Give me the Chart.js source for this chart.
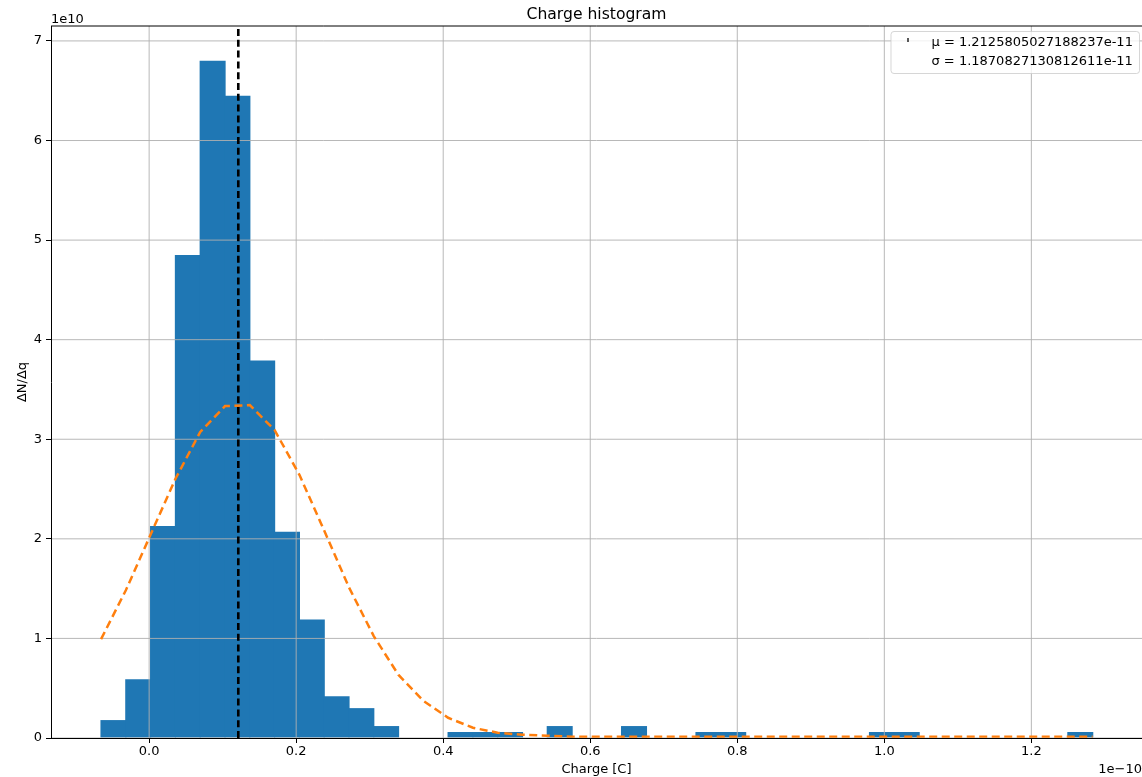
<!DOCTYPE html>
<html>
<head>
<meta charset="utf-8">
<script src="https://cdn.jsdelivr.net/npm/chart.js@4.4.1/dist/chart.umd.min.js"></script>
<style>
  html, body { margin: 0; padding: 0; background: #fff; }
  #wrap { width: 1142px; height: 777px; }
</style>
</head>
<body>
<div id="wrap"><canvas id="c" width="1142" height="777"></canvas></div>
<script>
// ---- Data (x in units of 1e-10 C, y in units of 1e10) ----
const binEdges = [-0.0654, -0.0317, 0.0020, 0.0358, 0.0695, 0.1032, 0.1369, 0.1706, 0.2044, 0.2381,
  0.2718, 0.3055, 0.3392, 0.3730, 0.4067, 0.4404, 0.4741, 0.5078, 0.5416, 0.5753,
  0.6090, 0.6427, 0.6764, 0.7102, 0.7439, 0.7776, 0.8113, 0.8450, 0.8788, 0.9125,
  0.9462, 0.9799, 1.0136, 1.0474, 1.0811, 1.1148, 1.1485, 1.1822, 1.2160, 1.2497, 1.2834];
const binDensity = [0.18, 0.59, 2.13, 4.85, 6.80, 6.45, 3.79, 2.07, 1.19, 0.42,
  0.30, 0.12, 0, 0, 0.06, 0.06, 0.06, 0, 0.12, 0,
  0, 0.12, 0, 0, 0.06, 0.06, 0, 0, 0, 0,
  0, 0.06, 0.06, 0, 0, 0, 0, 0, 0, 0.06];
const fitCurve = [0.98, 1.47, 2.03, 2.59, 3.06, 3.32, 3.33, 3.08, 2.63, 2.07,
  1.50, 1.01, 0.62, 0.36, 0.19, 0.09, 0.04, 0.02, 0.01, 0,
  0, 0, 0, 0, 0, 0, 0, 0, 0, 0,
  0, 0, 0, 0, 0, 0, 0, 0, 0, 0, 0];
const meanCharge = 1.2125805027188237e-11;
const sigmaCharge = 1.1870827130812611e-11;
const legendLabels = ['μ = 1.2125805027188237e-11', 'σ = 1.1870827130812611e-11'];
const xTicks = [0.0, 0.2, 0.4, 0.6, 0.8, 1.0, 1.2];
const yTicks = [0, 1, 2, 3, 4, 5, 6, 7];
const titleText = 'Charge histogram';
const xLabel = 'Charge [C]';
const yLabel = 'ΔN/Δq';
const xOffsetText = '1e\u221210';
const yOffsetText = '1e10';

// ---- Layout constants ----
const X_MIN = -0.1335, X_MAX = 1.3505, Y_MAX = 7.15;
const FONT = "'DejaVu Sans', sans-serif";

const meanScaled = meanCharge / 1e-10;
const barData = binDensity.map((v, i) => ({ x: (binEdges[i] + binEdges[i + 1]) / 2, y: v }));
const fitData = fitCurve.map((v, i) => ({ x: binEdges[i], y: v }));
const meanData = [{ x: meanScaled, y: 0 }, { x: meanScaled, y: Y_MAX }];

Chart.defaults.font.family = FONT;
Chart.defaults.font.size = 13;
Chart.defaults.color = '#000';

const mplDecor = {
  id: 'mplDecor',
  beforeDatasetDraw(chart, args) {
    if (args.index === 1) {
      chart.ctx.save();
      chart.ctx.translate(0, -1.3);
    }
  },
  afterDatasetDraw(chart, args) {
    if (args.index === 1) { chart.ctx.restore(); return; }
    if (args.index !== 0) return;
    const { ctx, chartArea: a, scales: { x, y } } = chart;
    ctx.save();
    ctx.beginPath();
    ctx.rect(a.left, a.top, a.right - a.left, a.bottom - a.top);
    ctx.clip();
    ctx.strokeStyle = '#b0b0b0';
    ctx.lineWidth = 0.9;
    xTicks.forEach(v => {
      const p = x.getPixelForValue(v);
      ctx.beginPath(); ctx.moveTo(p, a.top); ctx.lineTo(p, a.bottom); ctx.stroke();
    });
    yTicks.forEach(v => {
      const p = y.getPixelForValue(v);
      ctx.beginPath(); ctx.moveTo(a.left, p); ctx.lineTo(a.right, p); ctx.stroke();
    });
    ctx.restore();
  },
  afterDraw(chart) {
    const { ctx, chartArea: a } = chart;
    ctx.save();
    // top spine
    ctx.strokeStyle = '#000';
    ctx.lineWidth = 1;
    ctx.beginPath(); ctx.moveTo(a.left, a.top); ctx.lineTo(a.right, a.top); ctx.stroke();
    // title
    ctx.fillStyle = '#000';
    ctx.font = '15.6px ' + FONT;
    ctx.textAlign = 'center';
    ctx.textBaseline = 'alphabetic';
    ctx.fillText(titleText, (a.left + a.right) / 2, 19);
    // offset texts
    ctx.font = '13px ' + FONT;
    ctx.textAlign = 'left';
    ctx.fillText(yOffsetText, a.left, 23);
    ctx.textAlign = 'right';
    ctx.fillText(xOffsetText, a.right, 773);
    // legend
    const bx = 891, by = 31.5, bw = 1139.5 - 891, bh = 73.5 - 31.5, r = 3;
    ctx.beginPath();
    ctx.moveTo(bx + r, by);
    ctx.arcTo(bx + bw, by, bx + bw, by + bh, r);
    ctx.arcTo(bx + bw, by + bh, bx, by + bh, r);
    ctx.arcTo(bx, by + bh, bx, by, r);
    ctx.arcTo(bx, by, bx + bw, by, r);
    ctx.closePath();
    ctx.fillStyle = 'rgba(255,255,255,0.8)';
    ctx.fill();
    ctx.strokeStyle = 'rgba(204,204,204,0.8)';
    ctx.lineWidth = 1;
    ctx.stroke();
    ctx.strokeStyle = '#222';
    ctx.lineWidth = 1.5;
    ctx.beginPath(); ctx.moveTo(908, 38); ctx.lineTo(908, 42); ctx.stroke();
    ctx.fillStyle = '#000';
    ctx.textAlign = 'left';
    ctx.fillText(legendLabels[0], 931.5, 46);
    ctx.fillText(legendLabels[1], 931.5, 65.3);
    ctx.restore();
  }
};

new Chart(document.getElementById('c'), {
  data: {
    datasets: [
      {
        type: 'bar', label: 'histogram', data: barData, order: 3,
        backgroundColor: '#1f77b4', borderWidth: 0,
        barPercentage: 1.05, categoryPercentage: 1.0
      },
      {
        type: 'line', label: 'fit', data: fitData, order: 2,
        borderColor: '#ff7f0e', borderWidth: 2.5, borderDash: [8, 4.5],
        pointRadius: 0, tension: 0, fill: false,
        clip: { left: 0, top: 0, right: 0, bottom: 1 }
      },
      {
        type: 'line', label: legendLabels[0], data: meanData, order: 1,
        borderColor: '#000', borderWidth: 2.6, borderDash: [7, 3.8],
        pointRadius: 0, tension: 0, fill: false, clip: 0
      }
    ]
  },
  options: {
    responsive: false,
    animation: false,
    devicePixelRatio: 1,
    layout: { padding: { top: 26, left: 0, right: -4, bottom: 0 } },
    plugins: { legend: { display: false }, title: { display: false }, tooltip: { enabled: false } },
    scales: {
      x: {
        type: 'linear', min: X_MIN, max: X_MAX, offset: false,
        grid: { offset: false, drawOnChartArea: false, drawTicks: true, tickLength: 5, tickColor: '#000', tickWidth: 1 },
        border: { display: true, color: '#000', width: 1, z: 1 },
        ticks: { padding: 1, color: '#000', font: { size: 13 }, maxRotation: 0, autoSkip: false,
                 callback: v => Number(v).toFixed(1) },
        afterBuildTicks: s => { s.ticks = xTicks.map(v => ({ value: v })); },
        afterFit: s => { s.height = 39; },
        title: { display: true, text: xLabel, color: '#000', font: { size: 13 }, padding: { top: 0, bottom: 0 } }
      },
      y: {
        type: 'linear', min: 0, max: Y_MAX,
        grid: { drawOnChartArea: false, drawTicks: true, tickLength: 5, tickColor: '#000', tickWidth: 1 },
        border: { display: true, color: '#000', width: 1, z: 1 },
        ticks: { padding: 4, color: '#000', font: { size: 13 }, autoSkip: false,
                 callback: v => String(v) },
        afterBuildTicks: s => { s.ticks = yTicks.map(v => ({ value: v })); },
        afterFit: s => { s.width = 51; },
        title: { display: true, text: yLabel, color: '#000', font: { size: 13 }, padding: { top: 15, bottom: 0 } }
      }
    }
  },
  plugins: [mplDecor]
});
</script>
</body>
</html>
